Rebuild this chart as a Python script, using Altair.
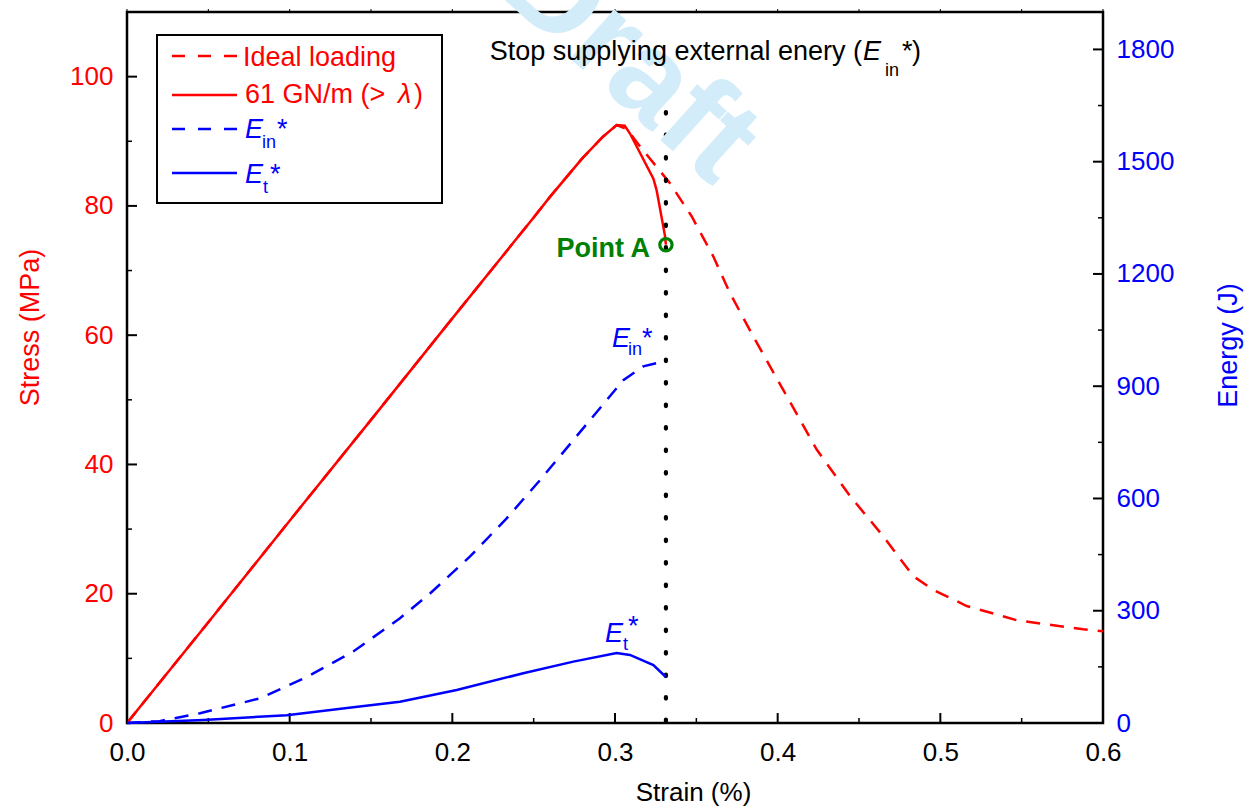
import altair as alt
import pandas as pd

# ---------------- data ----------------
solid_strain = [0.0, 0.05, 0.10, 0.15, 0.20, 0.25, 0.26, 0.28, 0.2926, 0.301, 0.306, 0.3092, 0.3236, 0.3256, 0.3307, 0.3313]
solid_stress = [0.0, 15.6, 31.3, 46.9, 62.6, 78.2, 81.4, 87.4, 90.7, 92.5, 92.4, 91.2, 84.2, 82.4, 75.4, 74.0]

ideal_strain = [0.0, 0.05, 0.10, 0.15, 0.20, 0.25, 0.26, 0.28, 0.2926, 0.301, 0.3072, 0.3154, 0.3338, 0.3471,
                0.3604, 0.3707, 0.3850, 0.4035, 0.4240, 0.4445, 0.4649, 0.4834, 0.4957, 0.5162, 0.5469, 0.5879, 0.6]
ideal_stress = [0.0, 15.6, 31.3, 46.9, 62.6, 78.2, 81.4, 87.4, 90.7, 92.5, 91.9, 89.2, 83.5, 78.4,
                72.2, 66.5, 59.8, 51.5, 42.3, 35.1, 28.9, 22.7, 20.6, 18.1, 15.9, 14.5, 14.2]

ein_strain = [0.0, 0.02, 0.0449, 0.0818, 0.1105, 0.1391, 0.1678, 0.1863, 0.2109, 0.2334, 0.2539, 0.2744, 0.2949, 0.3051, 0.3174, 0.3313]
ein_energy = [0, 5, 26, 66, 123, 191, 280, 346, 445, 547, 649, 756, 863, 916, 953, 968]

et_strain = [0.0, 0.0469, 0.0982, 0.1391, 0.1678, 0.2027, 0.2436, 0.2744, 0.3010, 0.3092, 0.3236, 0.3313]
et_energy = [0, 8, 21, 42, 57, 88, 133, 164, 187, 182, 155, 123]

stop_strain = [0.3313]
stop_top = [98]
pointA_strain = [0.3313]
pointA_stress = [74.0]

x_major = [0.0, 0.1, 0.2, 0.3, 0.4, 0.5, 0.6]
x_minor = [0.05, 0.15, 0.25, 0.35, 0.45, 0.55]
stress_major = [0, 20, 40, 60, 80, 100]
stress_minor = [10, 30, 50, 70, 90]
energy_major = [0, 300, 600, 900, 1200, 1500, 1800]
energy_minor = [150, 450, 750, 1050, 1350, 1650]

RED = "#ff0000"
BLUE = "#0000ff"
GREEN = "#008000"
FONT = "Liberation Sans"
W, H = 976, 711

x_scale = alt.Scale(domain=[0, 0.6], nice=False, zero=False)
s_scale = alt.Scale(domain=[0, 110], nice=False)
e_scale = alt.Scale(domain=[0, 1900], nice=False)

x_axis = alt.Axis(values=x_major, format=".1f", title="Strain (%)", grid=False, domain=False,
                  ticks=False, tickSize=0, labelFont=FONT, labelFontSize=26, labelColor="black",
                  labelPadding=16, labelFlush=False, labelOverlap=False,
                  titleFont=FONT, titleFontSize=26, titleFontWeight="normal", titleColor="black",
                  titleX=566, titleY=77, titleBaseline="alphabetic", titleAlign="center")
s_axis = alt.Axis(values=stress_major, format="d", title="Stress (MPa)", orient="left", grid=False, domain=False,
                  ticks=False, tickSize=0, labelFont=FONT, labelFontSize=26, labelColor=RED,
                  labelPadding=14, labelFlush=False, labelOverlap=False,
                  titleFont=FONT, titleFontSize=27, titleFontWeight="normal", titleColor=RED,
                  titleX=-97, titleY=315, titleBaseline="middle", titleAngle=270, titleAlign="center")
e_axis = alt.Axis(values=energy_major, format="d", title="Energy (J)", orient="right", grid=False, domain=False,
                  ticks=False, tickSize=0, labelFont=FONT, labelFontSize=26, labelColor=BLUE,
                  labelPadding=13, labelFlush=False, labelOverlap=False,
                  titleFont=FONT, titleFontSize=27, titleFontWeight="normal", titleColor=BLUE,
                  titleX=125, titleY=333, titleBaseline="middle", titleAngle=270, titleAlign="center")


def X():
    return alt.X("strain:Q", scale=x_scale, axis=x_axis)


def YS(field="stress:Q"):
    return alt.Y(field, scale=s_scale, axis=s_axis)


def YE(field="energy:Q"):
    return alt.Y(field, scale=e_scale, axis=e_axis)


df_solid = pd.DataFrame({"strain": solid_strain, "stress": solid_stress})
df_ideal = pd.DataFrame({"strain": ideal_strain, "stress": ideal_stress})
df_ein = pd.DataFrame({"strain": ein_strain, "energy": ein_energy})
df_et = pd.DataFrame({"strain": et_strain, "energy": et_energy})
df_stop = pd.DataFrame({"strain": stop_strain, "stress": stop_top, "bottom": [0]})
df_a = pd.DataFrame({"strain": pointA_strain, "stress": pointA_stress})
one = pd.DataFrame({"k": [0]})

# ---------------- stress group (left axis) ----------------
ideal = alt.Chart(df_ideal).mark_line(color=RED, strokeWidth=2.5, strokeDash=[14, 10]).encode(x=X(), y=YS())
solid = alt.Chart(df_solid).mark_line(color=RED, strokeWidth=2.5).encode(x=X(), y=YS())
stop = alt.Chart(df_stop).mark_rule(color="black", strokeWidth=4.2, strokeDash=[1.5, 21], strokeCap="round").encode(
    x=X(), y=YS(), y2="bottom:Q")
pointA = alt.Chart(df_a).mark_point(shape="circle", filled=False, size=150, strokeWidth=3.2, color=GREEN,
                                    opacity=1).encode(x=X(), y=YS())

xt_major = alt.Chart(pd.DataFrame({"strain": x_major})).mark_rule(color="black", strokeWidth=2).encode(
    x=X(), y=alt.value(H), y2=alt.value(H - 10))
xt_minor = alt.Chart(pd.DataFrame({"strain": x_minor})).mark_rule(color="black", strokeWidth=1.5).encode(
    x=X(), y=alt.value(H), y2=alt.value(H - 5))
xt_top = alt.Chart(pd.DataFrame({"strain": x_major + x_minor})).mark_rule(color="black", strokeWidth=1).encode(
    x=X(), y=alt.value(0), y2=alt.value(-3))
st_major = alt.Chart(pd.DataFrame({"stress": stress_major})).mark_rule(color="black", strokeWidth=2).encode(
    y=YS(), x=alt.value(0), x2=alt.value(10))
st_minor = alt.Chart(pd.DataFrame({"stress": stress_minor})).mark_rule(color="black", strokeWidth=1.5).encode(
    y=YS(), x=alt.value(0), x2=alt.value(5))

group_stress = alt.layer(ideal, solid, stop, pointA, xt_major, xt_minor, xt_top, st_major, st_minor)

# ---------------- energy group (right axis) ----------------
ein = alt.Chart(df_ein).mark_line(color=BLUE, strokeWidth=2.5, strokeDash=[14, 10]).encode(x=X(), y=YE())
et = alt.Chart(df_et).mark_line(color=BLUE, strokeWidth=2.5).encode(x=X(), y=YE())
et_major = alt.Chart(pd.DataFrame({"energy": energy_major})).mark_rule(color="black", strokeWidth=2).encode(
    y=YE(), x=alt.value(W), x2=alt.value(W - 10))
et_minor = alt.Chart(pd.DataFrame({"energy": energy_minor})).mark_rule(color="black", strokeWidth=1.5).encode(
    y=YE(), x=alt.value(W), x2=alt.value(W - 5))

group_energy = alt.layer(ein, et, et_major, et_minor)


# ---------------- annotations ----------------
def txt(s, x, y, size=27, color="black", style="normal", weight="normal", align="left", angle=0):
    return alt.Chart(one).mark_text(text=s, font=FONT, fontSize=size, color=color, fontStyle=style,
                                    fontWeight=weight, align=align, baseline="alphabetic", angle=angle).encode(
        x=alt.value(x), y=alt.value(y))


def seg(x1, x2, y, color, dash=None):
    kw = dict(color=color, strokeWidth=2.5)
    if dash:
        kw["strokeDash"] = dash
    return alt.Chart(one).mark_rule(**kw).encode(x=alt.value(x1), x2=alt.value(x2), y=alt.value(y))


watermark = txt("Draft", 478, 78, size=125, color="#d3ecfa", weight="bold", align="center", angle=42)

legend_box = alt.Chart(one).mark_rect(fill="white", stroke="black", strokeWidth=2).encode(
    x=alt.value(30), x2=alt.value(315), y=alt.value(23), y2=alt.value(191))

annots = [
    watermark,
    legend_box,
    seg(45, 110, 44, RED, [13, 13]),
    seg(45, 110, 83, RED),
    seg(45, 110, 117, BLUE, [13, 13]),
    seg(45, 110, 161, BLUE),
    txt("Ideal loading", 116, 54, color=RED),
    txt("61 GN/m (>", 118, 91, color=RED),
    txt("λ", 271, 91, color=RED, style="italic"),
    txt(")", 287, 91, color=RED),
    txt("E", 118, 126, color=BLUE, style="italic"),
    txt("in", 135, 136, size=18, color=BLUE),
    txt("*", 150, 126, color=BLUE),
    txt("E", 118, 171, color=BLUE, style="italic"),
    txt("t", 136, 181, size=18, color=BLUE),
    txt("*", 143, 171, color=BLUE),
    # top annotation
    txt("Stop supplying external enery (", 735, 48, size=27, align="right"),
    txt("E", 736, 48, size=27, style="italic"),
    txt("in", 758, 64, size=18),
    txt("*", 775, 48, size=27),
    txt(")", 785, 48, size=27),
    # curve labels
    txt("E", 485, 335, color=BLUE, style="italic"),
    txt("in", 501, 343, size=18, color=BLUE),
    txt("*", 515, 335, color=BLUE),
    txt("E", 478, 630, color=BLUE, style="italic"),
    txt("t", 496, 638, size=18, color=BLUE),
    txt("*", 501, 623, color=BLUE),
    txt("Point A", 523, 245, size=27, color=GREEN, weight="bold", align="right"),
]

chart = alt.layer(group_stress, group_energy, *annots).resolve_scale(y="independent").properties(
    width=W, height=H,
    padding={"left": 127, "top": 12, "right": 147, "bottom": 85},
    autosize=alt.AutoSizeParams(type="none"),
).configure_view(stroke="black", strokeWidth=2.5)

chart.save("out.html", embed_options={"renderer": "svg", "actions": False})
